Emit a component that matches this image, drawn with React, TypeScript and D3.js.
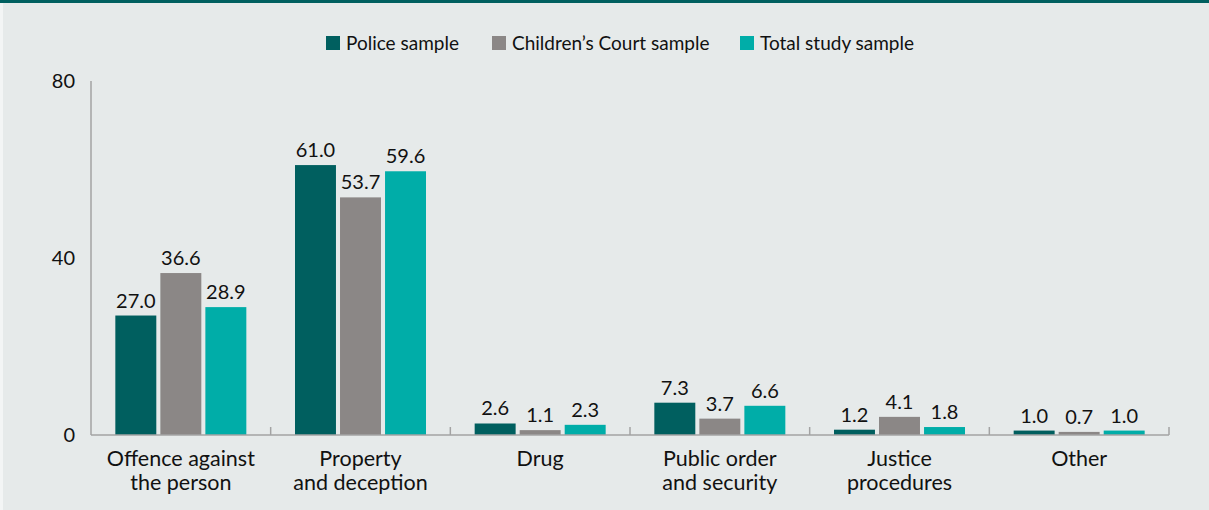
import * as d3 from "d3";

const categories = [
  ["Offence against", "the person"],
  ["Property", "and deception"],
  ["Drug"],
  ["Public order", "and security"],
  ["Justice", "procedures"],
  ["Other"],
];
const seriesNames = ["Police sample", "Children\u2019s Court sample", "Total study sample"];
const police = [27.0, 61.0, 2.6, 7.3, 1.2, 1.0];
const court = [36.6, 53.7, 1.1, 3.7, 4.1, 0.7];
const total = [28.9, 59.6, 2.3, 6.6, 1.8, 1.0];
const yTicks = [0, 40, 80];

const colors = ["#005f5f", "#8b8786", "#00ada8"];
const W = 1209;
const H = 510;
const font = "Lato, 'Open Sans', sans-serif";

const App = () => {
  const series = [police, court, total];
  const margin = { left: 91, right: 40, top: 81, bottom: 75 };
  const x = d3
    .scaleBand<number>()
    .domain(d3.range(categories.length))
    .range([margin.left, W - margin.right]);
  const y = d3.scaleLinear().domain([0, 80]).range([H - margin.bottom, margin.top]);
  const inner = d3
    .scaleBand<number>()
    .domain([0, 1, 2])
    .range([0, 131])
    .paddingInner(0.09);
  const groupOffset = (x.bandwidth() - 131) / 2;

  // legend positions
  const legendX = [326, 492, 740];

  return (
    <svg width={W} height={H} style={{ position: "absolute", left: 0, top: 0, display: "block" }}>
      <rect x={0} y={0} width={W} height={H} fill="#e6eaea" />
      <rect x={0} y={0} width={3} height={H} fill="#f3f5f5" />
      <rect x={0} y={0} width={W} height={3} fill="#006060" />

      {/* legend */}
      {seriesNames.map((name, i) => (
        <g key={name} transform={`translate(${legendX[i]},43)`}>
          <rect x={0} y={-7} width={14} height={14} fill={colors[i]} />
          <text x={20} y={6.5} fontFamily={font} fontSize={19} fill="#111">
            {name}
          </text>
        </g>
      ))}

      {/* y axis */}
      <line x1={margin.left} x2={margin.left} y1={y(80)} y2={y(0)} stroke="#a3a3a3" strokeWidth={1.5} />
      {yTicks.map((t) => (
        <text key={t} x={75} y={y(t)} dy="0.35em" textAnchor="end" fontFamily={font} fontSize={20} fill="#111">
          {t}
        </text>
      ))}

      {/* bars */}
      {categories.map((_, ci) =>
        series.map((s, si) => {
          const bx = (x(ci) as number) + groupOffset + (inner(si) as number);
          return (
            <g key={`${ci}-${si}`}>
              <rect x={bx} y={y(s[ci])} width={inner.bandwidth()} height={y(0) - y(s[ci])} fill={colors[si]} />
              <text
                x={bx + inner.bandwidth() / 2}
                y={y(s[ci]) - 8}
                textAnchor="middle"
                fontFamily={font}
                fontSize={20}
                fill="#111"
              >
                {s[ci].toFixed(1)}
              </text>
            </g>
          );
        })
      )}

      {/* x axis */}
      <line x1={margin.left} x2={W - margin.right} y1={y(0)} y2={y(0)} stroke="#a3a3a3" strokeWidth={1.5} />
      {categories.map((_, ci) => {
        const tx = (x(ci) as number) + x.bandwidth();
        return <line key={ci} x1={tx} x2={tx} y1={y(0)} y2={y(0) - 8} stroke="#a3a3a3" strokeWidth={1.5} />;
      })}
      {categories.map((lines, ci) => (
        <text
          key={ci}
          x={(x(ci) as number) + x.bandwidth() / 2}
          textAnchor="middle"
          fontFamily={font}
          fontSize={21.5}
          fill="#111"
        >
          {lines.map((l, li) => (
            <tspan key={li} x={(x(ci) as number) + x.bandwidth() / 2} y={466 + li * 24}>
              {l}
            </tspan>
          ))}
        </text>
      ))}
    </svg>
  );
};

export default App;
